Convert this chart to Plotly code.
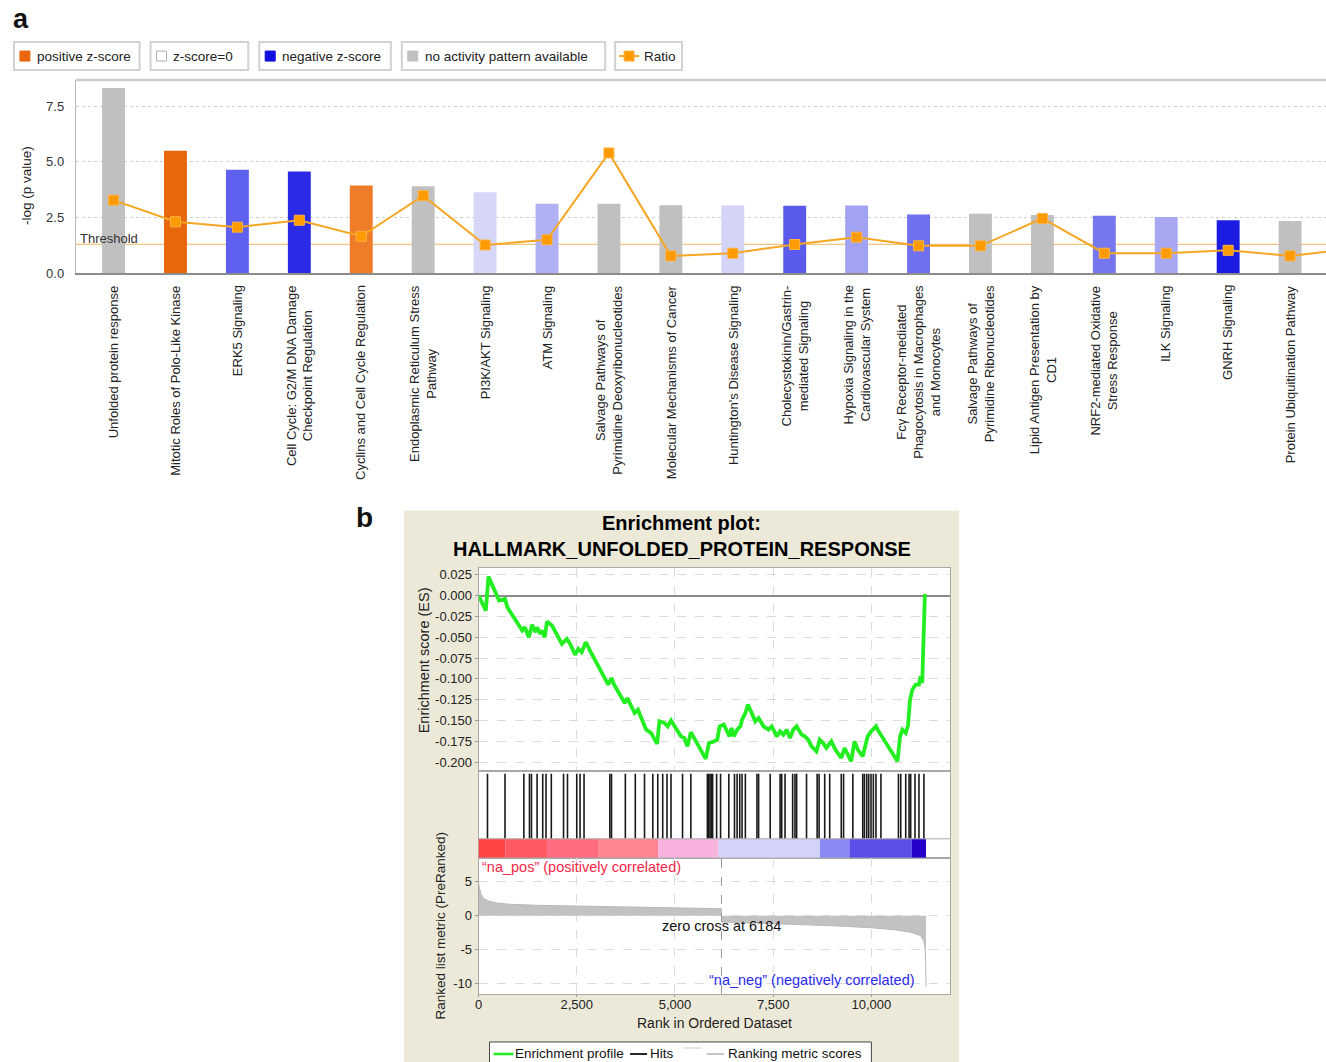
import plotly.graph_objects as go

FIG_W, FIG_H = 1326, 1062
LAYOUT_H = 1071
FONT = "Arial, 'Liberation Sans', sans-serif"


def fx(px):
    """pixel column -> paper x"""
    return px / FIG_W


def fy(py):
    """pixel row -> paper y"""
    return 1 - py / FIG_H


# ---------------- panel a: canonical pathways ----------------
pathways = [
    "Unfolded protein response",
    "Mitotic Roles of Polo-Like Kinase",
    "ERK5 Signaling",
    "Cell Cycle: G2/M DNA Damage<br>Checkpoint Regulation",
    "Cyclins and Cell Cycle Regulation",
    "Endoplasmic Reticulum Stress<br>Pathway",
    "PI3K/AKT Signaling",
    "ATM Signaling",
    "Salvage Pathways of<br>Pyrimidine Deoxyribonucleotides",
    "Molecular Mechanisms of Cancer",
    "Huntington's Disease Signaling",
    "Cholecystokinin/Gastrin-<br>mediated Signaling",
    "Hypoxia Signaling in the<br>Cardiovascular System",
    "Fcγ Receptor-mediated<br>Phagocytosis in Macrophages<br>and Monocytes",
    "Salvage Pathways of<br>Pyrimidine Ribonucleotides",
    "Lipid Antigen Presentation by<br>CD1",
    "NRF2-mediated Oxidative<br>Stress Response",
    "ILK Signaling",
    "GNRH Signaling",
    "Protein Ubiquitination Pathway",
]
neg_log_p = [8.32, 5.50, 4.65, 4.57, 3.94, 3.90, 3.64, 3.12, 3.12, 3.05,
             3.04, 3.03, 3.04, 2.64, 2.67, 2.61, 2.58, 2.53, 2.38, 2.34]
bar_colors = ["#c0c0c0", "#e8670c", "#5f5ff0", "#2b2be6", "#ee7c28",
              "#c0c0c0", "#d6d6f8", "#b0b0f4", "#c0c0c0", "#c0c0c0",
              "#d4d4f8", "#5a5aec", "#a2a2f2", "#7070ee", "#c0c0c0",
              "#c0c0c0", "#7676ee", "#a8a8f2", "#1c1ce2", "#c0c0c0"]
# ratio line continues to one more pathway beyond the right edge
ratio_values = [3.28, 2.31, 2.07, 2.38, 1.66, 3.48, 1.27, 1.50, 5.40, 0.78,
                0.90, 1.29, 1.62, 1.23, 1.23, 2.46, 0.90, 0.90, 1.03, 0.78, 1.09]
threshold = 1.3
a_ticks = [0.0, 2.5, 5.0, 7.5]

legend_a_labels = ["positive z-score", "z-score=0", "negative z-score",
                   "no activity pattern available", "Ratio"]
legend_a_colors = ["#e8670c", "#ffffff", "#1010e0", "#c0c0c0", "#ff9900"]

# ---------------- panel b: GSEA enrichment plot ----------------
es_rank = [0, 185, 252, 522, 673, 732, 1111, 1178, 1279, 1364, 1448, 1490,
           1574, 1616, 1684, 1742, 1869, 1936, 2121, 2247, 2331, 2458, 2542,
           2626, 2727, 2837, 3300, 3384, 3451, 3720, 3788, 3973, 4057, 4267,
           4394, 4545, 4604, 4730, 4814, 4899, 4983, 5151, 5235, 5319, 5404,
           5488, 5782, 5866, 5950, 6077, 6136, 6245, 6329, 6388, 6439, 6498,
           6582, 6666, 6708, 6792, 6860, 6961, 7045, 7129, 7255, 7381, 7466,
           7592, 7676, 7760, 7844, 7929, 8013, 8097, 8223, 8307, 8391, 8476,
           8602, 8686, 8770, 8854, 8981, 9082, 9233, 9317, 9401, 9486, 9570,
           9654, 9780, 9906, 9991, 10117, 10159, 10411, 10664, 10731, 10790,
           10874, 10933, 10984, 11043, 11127, 11211, 11253, 11295, 11320,
           11337, 11363]
es_score = [0.0, -0.018, 0.023, -0.006, -0.004, -0.014, -0.042, -0.038,
            -0.050, -0.035, -0.044, -0.038, -0.046, -0.042, -0.050, -0.031,
            -0.036, -0.042, -0.058, -0.052, -0.058, -0.071, -0.064, -0.068,
            -0.056, -0.066, -0.107, -0.099, -0.107, -0.129, -0.123, -0.141,
            -0.137, -0.161, -0.165, -0.178, -0.151, -0.153, -0.157, -0.150,
            -0.157, -0.169, -0.171, -0.181, -0.164, -0.171, -0.196, -0.177,
            -0.176, -0.173, -0.157, -0.155, -0.165, -0.169, -0.159, -0.169,
            -0.161, -0.157, -0.149, -0.141, -0.131, -0.141, -0.151, -0.147,
            -0.157, -0.161, -0.157, -0.169, -0.163, -0.167, -0.161, -0.171,
            -0.161, -0.157, -0.167, -0.169, -0.173, -0.181, -0.187, -0.173,
            -0.177, -0.183, -0.175, -0.185, -0.195, -0.183, -0.191, -0.199,
            -0.175, -0.185, -0.193, -0.169, -0.163, -0.157, -0.161, -0.181,
            -0.199, -0.169, -0.161, -0.165, -0.156, -0.125, -0.113, -0.107,
            -0.107, -0.097, -0.105, -0.064, -0.020, 0.002]
hit_ranks = [227, 673, 1153, 1296, 1347, 1490, 1633, 1717, 1852, 2163, 2264,
             2500, 2584, 2685, 3342, 3384, 3737, 3990, 4225, 4436, 4562, 4688,
             4797, 4899, 5193, 5404, 5825, 5858, 5892, 5926, 5959, 6060, 6161,
             6371, 6515, 6582, 6649, 6708, 6792, 7087, 7129, 7424, 7676, 7718,
             7802, 7996, 8055, 8097, 8349, 8619, 8669, 8812, 8939, 9233, 9292,
             9528, 9780, 9822, 9881, 9932, 9991, 10050, 10117, 10243, 10689,
             10748, 10874, 10959, 11001, 11110, 11211, 11337]
heat_edges = [0, 680, 1740, 3060, 4570, 6110, 8690, 9440, 11030, 11390]
heat_colors = ["#ff4545", "#ff5a64", "#ff6b80", "#ff8590", "#f8b2de",
               "#d2d2fb", "#8a8af5", "#5a4fe8", "#2400c8"]
metric_rank = [0, 20, 60, 120, 250, 450, 800, 1500, 2500, 3500, 4500, 5500,
               6184, 6184, 7000, 8000, 9000, 10000, 10600, 11000, 11250,
               11330, 11370, 11385, 11390]
metric_value = [4.7, 4.0, 3.2, 2.6, 2.2, 1.9, 1.7, 1.55, 1.42, 1.32, 1.22,
                1.12, 1.05, -0.9, -1.05, -1.25, -1.45, -1.75, -2.05, -2.4,
                -2.9, -3.6, -4.8, -7.5, -10.4]
zero_cross = 6184
rank_ticks = [0, 2500, 5000, 7500, 10000]
es_ticks = [0.025, 0.0, -0.025, -0.05, -0.075, -0.1, -0.125, -0.15, -0.175, -0.2]
metric_ticks = [5, 0, -5, -10]
legend_b_labels = ["Enrichment profile", "Hits", "Ranking metric scores"]
legend_b_colors = ["#22ee22", "#111111", "#c0c0c0"]

fig = go.Figure()

# ---- panel a traces ----
fig.add_trace(go.Bar(
    x=list(range(len(pathways))), y=neg_log_p, width=0.37,
    marker=dict(color=bar_colors, line=dict(width=0)),
    xaxis="x", yaxis="y", hoverinfo="skip"))
fig.add_trace(go.Scatter(
    x=list(range(len(ratio_values))), y=ratio_values, mode="lines+markers",
    line=dict(color="#f5a623", width=2),
    marker=dict(symbol="square", size=10, color="#ff9a00",
                line=dict(color="#ffb347", width=1)),
    xaxis="x", yaxis="y", hoverinfo="skip"))

# ---- panel b traces ----
fig.add_trace(go.Scatter(
    x=es_rank, y=es_score, mode="lines",
    line=dict(color="#22ee22", width=3.8),
    xaxis="x2", yaxis="y2", hoverinfo="skip"))

HIT_LO, HIT_HI = 0.218, 0.966
hx, hy = [], []
for r in hit_ranks:
    hx += [r, r, None]
    hy += [HIT_LO, HIT_HI, None]
fig.add_trace(go.Scatter(
    x=hx, y=hy, mode="lines", line=dict(color="#1a1a1a", width=1.6),
    xaxis="x3", yaxis="y3", hoverinfo="skip"))

fig.add_trace(go.Scatter(
    x=metric_rank, y=metric_value, mode="lines", fill="tozeroy",
    fillcolor="#c2c2c2", line=dict(color="#b8b8b8", width=1),
    xaxis="x4", yaxis="y4", hoverinfo="skip"))

shapes = []
annotations = []


def label(x, y, text, size, color="#222", xanchor="center", yanchor="middle",
          xref="paper", yref="paper", **kw):
    annotations.append(dict(x=x, y=y, xref=xref, yref=yref, text=text,
                            xanchor=xanchor, yanchor=yanchor, showarrow=False,
                            font=dict(size=size, color=color), **kw))


# panel b backdrop and white plotting area
shapes.append(dict(type="rect", xref="paper", yref="paper", layer="below",
                   x0=fx(401), x1=fx(958), y0=-0.02, y1=fy(510),
                   fillcolor="#ece9d8", line=dict(width=0)))
shapes.append(dict(type="rect", xref="paper", yref="paper", layer="below",
                   x0=fx(476), x1=fx(949), y0=fy(993), y1=fy(567),
                   fillcolor="#ffffff", line=dict(width=0)))

# panel a frame top and threshold
shapes.append(dict(type="line", xref="paper", yref="paper",
                   x0=fx(72), x1=1, y0=fy(80), y1=fy(80),
                   line=dict(color="#cdcdcd", width=2.5)))
shapes.append(dict(type="line", xref="paper", yref="y", layer="below",
                   x0=fx(72), x1=1, y0=threshold, y1=threshold,
                   line=dict(color="#f3c57e", width=1.2)))

# panel a legend boxes
legend_boxes = [(10, 136), (147, 245), (256, 388), (399, 603), (613, 680)]
for (l, r), lab, col in zip(legend_boxes, legend_a_labels, legend_a_colors):
    shapes.append(dict(type="rect", xref="paper", yref="paper",
                       x0=fx(l), x1=fx(r), y0=fy(70), y1=fy(42),
                       fillcolor="white", line=dict(color="#d2d2d2", width=2)))
    if lab == "Ratio":
        shapes.append(dict(type="line", xref="paper", yref="paper",
                           x0=fx(l + 4), x1=fx(l + 24), y0=fy(56), y1=fy(56),
                           line=dict(color="#f5a623", width=2)))
        shapes.append(dict(type="rect", xref="paper", yref="paper",
                           x0=fx(l + 9), x1=fx(l + 19), y0=fy(61), y1=fy(51),
                           fillcolor=col, line=dict(color="#ffb347", width=1)))
        tx = l + 27
    else:
        edge = "#b0b0b0" if col == "#ffffff" else col
        shapes.append(dict(type="rect", xref="paper", yref="paper",
                           x0=fx(l + 6), x1=fx(l + 16), y0=fy(61), y1=fy(51),
                           fillcolor=col, line=dict(color=edge, width=1)))
        tx = l + 21
    label(fx(tx), fy(56), lab, 13.5, xanchor="left")

# pathway labels under the bars
for i, name in enumerate(pathways):
    label(i, fy(283), name, 13, xref="x", yanchor="top", textangle=-90,
          align="center")

label(fx(17), fy(19), "<b>a</b>", 27, color="#111")
label(fx(362), fy(517), "<b>b</b>", 28, color="#111")
label(fx(22), fy(185), "-log (p value)", 13.5, textangle=-90)
label(fx(74), fy(238), "Threshold", 13, color="#333", xanchor="left")
label(fx(680), fy(523), "<b>Enrichment plot:</b>", 20, color="#000")
label(fx(680), fy(548), "<b>HALLMARK_UNFOLDED_PROTEIN_RESPONSE</b>", 20,
      color="#000")
label(fx(421), fy(660), "Enrichment score (ES)", 14.5, textangle=-90)
label(fx(438), fy(925), "Ranked list metric (PreRanked)", 13.5, textangle=-90)
label(fx(713), fy(1022), "Rank in Ordered Dataset", 14)
label(30, 7.2, "“na_pos” (positively correlated)", 14.5, color="#f0284a",
      xanchor="left", xref="x4", yref="y4")
label(zero_cross, -1.5, f"zero cross at {zero_cross}", 14.5, color="#111",
      xref="x4", yref="y4")
label(11160, -9.4, "“na_neg” (negatively correlated)", 14.5, color="#2a2af0",
      xanchor="right", xref="x4", yref="y4")

# colour bar of the ranked list
for i, col in enumerate(heat_colors):
    shapes.append(dict(type="rect", xref="x3", yref="y3",
                       x0=heat_edges[i], x1=heat_edges[i + 1], y0=0, y1=HIT_LO,
                       fillcolor=col, line=dict(width=0)))
shapes.append(dict(type="line", xref="x3 domain", yref="y3",
                   x0=0, x1=1, y0=HIT_LO, y1=HIT_LO,
                   line=dict(color="#a8a8a8", width=1)))
shapes.append(dict(type="line", xref="x4", yref="y4 domain",
                   x0=zero_cross, x1=zero_cross, y0=0, y1=1,
                   line=dict(color="#9a9a9a", width=1, dash="dash")))

# panel b legend
shapes.append(dict(type="rect", xref="paper", yref="paper",
                   x0=fx(487), x1=fx(870), y0=-0.02, y1=fy(1041),
                   fillcolor="white", line=dict(color="#444", width=1)))
legend_b_pos = [(491, 511, 511), (628, 645, 646), (705, 722, 724)]
for (l0, l1, tx), lab, col in zip(legend_b_pos, legend_b_labels, legend_b_colors):
    shapes.append(dict(type="line", xref="paper", yref="paper",
                       x0=fx(l0), x1=fx(l1), y0=fy(1053), y1=fy(1053),
                       line=dict(color=col, width=2.5 if col == "#22ee22" else 1.8)))
    label(fx(tx), fy(1053), lab, 13.5, color="#111", xanchor="left")
shapes.append(dict(type="line", xref="paper", yref="paper",
                   x0=fx(681), x1=fx(700), y0=fy(1047), y1=fy(1047),
                   line=dict(color="#dedede", width=1.5)))

grid_b = dict(showgrid=True, gridcolor="#dcdcdc", griddash="dash", gridwidth=1)
frame_b = dict(showline=True, mirror=True, linecolor="#a8a8a8", linewidth=1)
x_b_domain = [fx(476), fx(949)]
x_b_range = [0, 12005]

fig.update_layout(
    width=FIG_W, height=LAYOUT_H, margin=dict(l=0, r=0, t=0, b=0),
    paper_bgcolor="white", plot_bgcolor="rgba(0,0,0,0)",
    font=dict(family=FONT, size=13, color="#222"),
    showlegend=False, shapes=shapes, annotations=annotations,
    xaxis=dict(domain=[fx(72), 1], range=[-0.61, 19.58], anchor="y",
               showticklabels=False, showgrid=False, zeroline=False,
               showline=True, linecolor="#8c8c8c", linewidth=2, ticks=""),
    yaxis=dict(domain=[fy(273), fy(80)], range=[0, 8.67], anchor="x",
               tickvals=a_ticks, ticktext=[f"{v:.1f}" for v in a_ticks],
               showgrid=True, gridcolor="#cfcfcf", griddash="dot",
               zeroline=False, showline=True, linecolor="#bdbdbd",
               ticks="", ticklabelstandoff=8,
               tickfont=dict(size=13, color="#333")),
    xaxis2=dict(domain=x_b_domain, range=x_b_range, anchor="y2",
                tickvals=rank_ticks, showticklabels=False, ticks="",
                zeroline=False, **grid_b, **frame_b),
    yaxis2=dict(domain=[fy(770), fy(567)], range=[-0.2103, 0.0337],
                anchor="x2", tickvals=es_ticks,
                ticktext=[f"{v:.3f}" if v != 0 else "0.000" for v in es_ticks],
                ticks="outside", ticklen=3, tickcolor="#999",
                zeroline=True, zerolinecolor="#8a8a8a", zerolinewidth=1.5,
                tickfont=dict(size=13, color="#222"), **grid_b, **frame_b),
    xaxis3=dict(domain=x_b_domain, range=x_b_range, anchor="y3",
                showticklabels=False, ticks="", showgrid=False,
                zeroline=False, **frame_b),
    yaxis3=dict(domain=[fy(857), fy(770)], range=[0, 1], anchor="x3",
                showticklabels=False, ticks="", showgrid=False,
                zeroline=False, **frame_b),
    xaxis4=dict(domain=x_b_domain, range=x_b_range, anchor="y4",
                tickvals=rank_ticks, ticktext=[f"{v:,}" for v in rank_ticks],
                ticks="outside", ticklen=2, tickcolor="#999", zeroline=False,
                ticklabelstandoff=-4,
                tickfont=dict(size=13, color="#222"), **grid_b, **frame_b),
    yaxis4=dict(domain=[fy(993), fy(857)], range=[-11.47, 8.53], anchor="x4",
                tickvals=metric_ticks, ticktext=[str(v) for v in metric_ticks],
                ticks="outside", ticklen=3, tickcolor="#999", zeroline=False,
                tickfont=dict(size=13, color="#222"), **grid_b, **frame_b),
)

fig.write_html("out.html")
